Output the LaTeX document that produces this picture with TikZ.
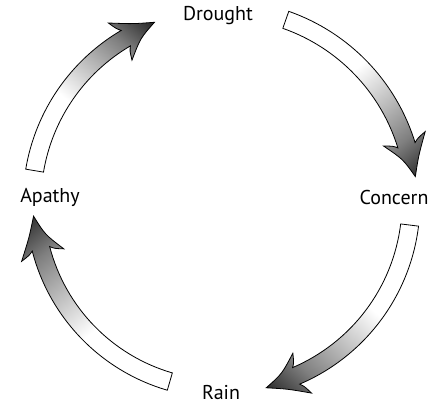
\documentclass[tikz,border=0pt]{standalone}
\usepackage{fontspec}
\newfontfamily\labelfont{PT Sans}
\pgfdeclareverticalshading{arrowfade}{100bp}{color(0bp)=(white); color(44bp)=(white); color(60bp)=(black!28); color(72bp)=(black!50); color(84bp)=(black!82); color(100bp)=(black!95)}

\tikzset{
  cyclelabel/.style={font=\labelfont\fontsize{20}{23}\selectfont, inner sep=0pt, anchor=base},
  cyclearrow/.style={draw=black, line width=0.8pt, shading=arrowfade, line join=miter}
}

\newcommand{\drawcyclearrow}[4]{%
  \pgfmathsetmacro\arrowshade{(#1+#3)/2-180}
  \pgfmathsetmacro\arrowside{(#2+#3)/2}
  \shade[cyclearrow, shading angle=\arrowshade]
    ({#1}:{#4+9}) arc[start angle={#1}, end angle={#2-2}, radius={#4+9}]
    .. controls ({#2-1}:{#4+13}) .. ({#2}:{#4+22})
    .. controls ({\arrowside}:{#4+9}) .. ({#3}:{#4+2})
    .. controls ({\arrowside}:{#4-7}) .. ({#2}:{#4-22})
    .. controls ({#2-1}:{#4-13}) .. ({#2-2}:{#4-9})
    arc[start angle={#2-2}, end angle={#1}, radius={#4-9}]
    -- cycle;}

\begin{document}
\begin{tikzpicture}[x=1pt, y=1pt]
\useasboundingbox (0,0) rectangle (443,404);

\node (drought) at (218,383) [cyclelabel] {Drought};
\node (concern) at (394,199) [cyclelabel] {Concern};
\node (rain) at (221,5) [cyclelabel] {Rain};
\node (apathy) at (50,201) [cyclelabel] {Apathy};

\coordinate (cycle_center) at (222,202);
\begin{scope}[shift={(cycle_center)}]
\drawcyclearrow{170.5}{122.4}{110.6}{190}
\drawcyclearrow{70.7}{19.1}{7.5}{193}
\drawcyclearrow{-7}{-64.9}{-76.6}{189}
\drawcyclearrow{-106.2}{-163.5}{-175.7}{187}
\end{scope}

\end{tikzpicture}
\end{document}
